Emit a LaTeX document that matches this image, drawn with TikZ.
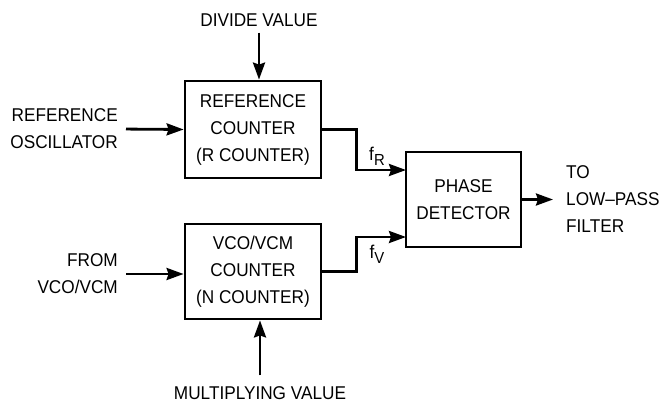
\documentclass[tikz,border=0pt]{standalone}
\usepackage{fontspec}
\setmainfont{Liberation Sans}[FakeStretch=0.93]
\usepackage{tikz}
\usetikzlibrary{arrows.meta}

\begin{document}
\begin{tikzpicture}[x=1pt,y=-1pt,
        txt/.style={inner sep=0pt,align=center,font=\fontsize{18.5}{27}\selectfont},
        blk/.style={draw,line width=2.8pt,inner sep=0pt,align=center,font=\fontsize{18.5}{27}\selectfont},
        sig/.style={line width=2.8pt,-{Stealth[length=17pt,width=12pt,inset=2pt]}}]
        \useasboundingbox (0,0) rectangle (662,402);
        % counters and detector
        \node[blk,minimum width=136pt,minimum height=97pt] (rcount) at (253,129.5) {REFERENCE\\COUNTER\\(R COUNTER)};
        \node[blk,minimum width=136pt,minimum height=95pt] (ncount) at (253,271.5) {VCO/VCM\\COUNTER\\(N COUNTER)};
        \node[blk,minimum width=115pt,minimum height=95pt] (phase) at (463.5,199.5) {PHASE\\DETECTOR};
        % inputs and outputs
        \node[txt] (divide) at (259,20) {DIVIDE VALUE};
        \node[txt] (multiply) at (260,393) {MULTIPLYING VALUE};
        \node[txt,align=right,anchor=east] (refosc) at (118,129) {REFERENCE\\OSCILLATOR};
        \node[txt,align=right,anchor=east] (fromvco) at (118,274) {FROM\\VCO/VCM};
        \node[txt,align=left,anchor=west] (lowpass) at (566,199) {TO\\LOW--PASS\\FILTER};
        \node[txt] (fr) at (377,156) {f\raisebox{-5pt}{\fontsize{16}{16}\selectfont R}};
        \node[txt] (fv) at (377,254) {f\raisebox{-5pt}{\fontsize{16}{16}\selectfont V}};
        \coordinate (rin) at (406,170);
        \coordinate (vin) at (406,237);
        % arrows
        \draw[sig,shorten <=6pt] (divide.south) -- (divide.south |- rcount.north);
        \draw[sig,shorten <=11pt] (multiply.north) -- (multiply.north |- ncount.south);
        \draw[sig,shorten <=8pt] (refosc.east) -- (rcount.west);
        \draw[sig,shorten <=8pt] (fromvco.east) -- (fromvco.east -| ncount.west);
        \draw[sig] (rcount.east) -- ++(34,0) |- (rin);
        \draw[sig] (ncount.east) -- ++(34,0) |- (vin);
        \draw[sig,shorten >=13pt] (phase.east) -- (phase.east -| lowpass.west);
\end{tikzpicture}
\end{document}
